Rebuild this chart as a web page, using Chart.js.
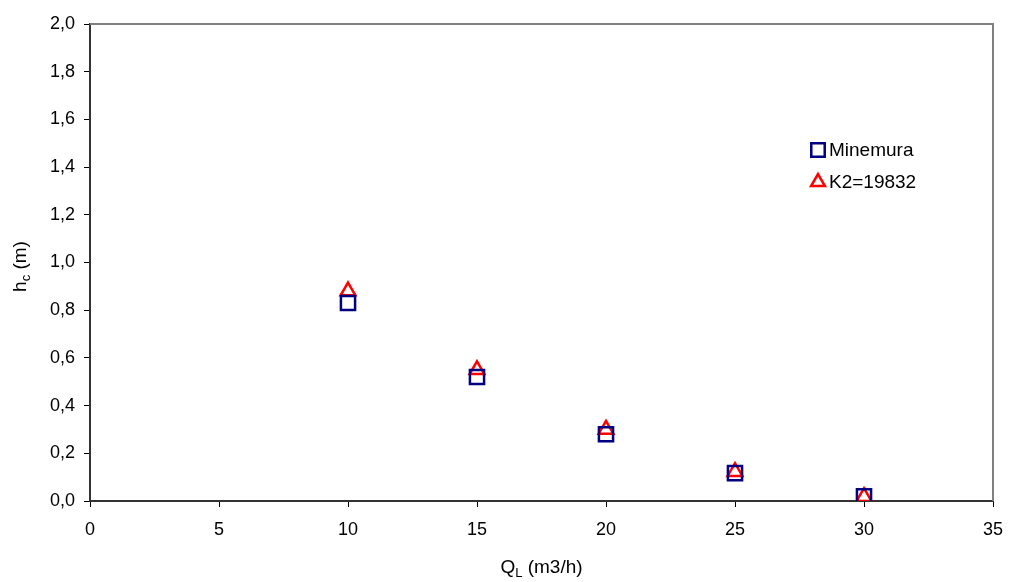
<!DOCTYPE html>
<html lang="pt">
<head>
    <meta charset="UTF-8">
    <title>hc x QL</title>
    <script src="https://cdn.jsdelivr.net/npm/chart.js@4.4.0/dist/chart.umd.min.js"></script>
    <style>
        html, body { margin: 0; padding: 0; background: #fff; }
        #wrap { width: 1011px; height: 582px; }
    </style>
</head>
<body>
<div id="wrap">
    <canvas id="grafico" width="1011" height="582"></canvas>
</div>

<script>
    // dados
    let vazoes = [10, 15, 20, 25, 30];
    let minemura = [0.83, 0.52, 0.28, 0.117, 0.02];
    let k2 = [0.88, 0.55, 0.30, 0.123, 0.018];

    let nomesSeries = ['Minemura', 'K2=19832'];

    let fonte = '"Liberation Sans", Arial, sans-serif';

    let pontos = (ys) => vazoes.map((x, i) => ({x: x, y: ys[i]}));

    // borda de cima / direita, titulos com subscrito e legenda
    let extras = {
        id: 'extras',
        afterDraw(chart) {
            let ctx = chart.ctx;
            let a = chart.chartArea;
            ctx.save();

            ctx.strokeStyle = '#808080';
            ctx.lineWidth = 2;
            ctx.beginPath();
            ctx.moveTo(a.left, a.top);
            ctx.lineTo(a.right, a.top);
            ctx.lineTo(a.right, a.bottom);
            ctx.stroke();

            ctx.fillStyle = '#000';
            ctx.textBaseline = 'alphabetic';

            // titulo eixo x: Q_L (m3/h)
            let cx = (a.left + a.right) / 2;
            ctx.font = '19px ' + fonte;
            let wQ = ctx.measureText('Q').width;
            let wResto = ctx.measureText(' (m3/h)').width;
            ctx.font = '13px ' + fonte;
            let wL = ctx.measureText('L').width;
            let x0 = cx - (wQ + wL + wResto) / 2;
            ctx.font = '19px ' + fonte;
            ctx.textAlign = 'left';
            ctx.fillText('Q', x0, 573);
            ctx.font = '13px ' + fonte;
            ctx.fillText('L', x0 + wQ, 577);
            ctx.font = '19px ' + fonte;
            ctx.fillText(' (m3/h)', x0 + wQ + wL, 573);

            // titulo eixo y: h_c (m)
            ctx.translate(26, (a.top + a.bottom) / 2 + 4);
            ctx.rotate(-Math.PI / 2);
            ctx.font = '19px ' + fonte;
            let wh = ctx.measureText('h').width;
            let wm = ctx.measureText(' (m)').width;
            ctx.font = '13px ' + fonte;
            let wc = ctx.measureText('c').width;
            let y0 = -(wh + wc + wm) / 2;
            ctx.font = '19px ' + fonte;
            ctx.fillText('h', y0, 0);
            ctx.font = '13px ' + fonte;
            ctx.fillText('c', y0 + wh, 4);
            ctx.font = '19px ' + fonte;
            ctx.fillText(' (m)', y0 + wh + wc, 0);
            ctx.restore();

            // legenda
            ctx.save();
            ctx.font = '19px ' + fonte;
            ctx.textBaseline = 'middle';
            ctx.textAlign = 'left';
            chart.data.datasets.forEach((ds, i) => {
                let ly = 150 + i * 32;
                ctx.strokeStyle = ds.borderColor;
                ctx.fillStyle = 'rgba(0,0,0,0)';
                ctx.lineWidth = ds.borderWidth;
                Chart.helpers.drawPoint(ctx, {
                    pointStyle: ds.pointStyle,
                    radius: ds.pointStyle === 'rect' ? 9.5 : 8,
                    borderWidth: ds.borderWidth
                }, 818, ly);
                ctx.fillStyle = '#000';
                ctx.fillText(ds.label, 829, ly + 1);
            });
            ctx.restore();
        }
    };

    let grafico = new Chart(document.querySelector('#grafico').getContext('2d'), {
        type: 'scatter',
        data: {
            datasets: [{
                label: nomesSeries[0],
                data: pontos(minemura),
                pointStyle: 'rect',
                pointRadius: 10,
                borderColor: '#000080',
                backgroundColor: 'rgba(0,0,0,0)',
                borderWidth: 2.5
            }, {
                label: nomesSeries[1],
                data: pontos(k2),
                pointStyle: 'triangle',
                pointRadius: 8.5,
                borderColor: '#FF0000',
                backgroundColor: 'rgba(0,0,0,0)',
                borderWidth: 2.5
            }]
        },
        options: {
            responsive: false,
            animation: false,
            layout: {padding: {left: 0, top: 24, right: 18, bottom: 0}},
            plugins: {
                legend: {display: false},
                tooltip: {enabled: false}
            },
            scales: {
                x: {
                    type: 'linear',
                    min: 0,
                    max: 35,
                    afterFit: (s) => { s.height = 81; s.paddingLeft = 0; s.paddingRight = 0; },
                    ticks: {
                        stepSize: 5,
                        color: '#000',
                        font: {family: fonte, size: 18},
                        padding: 12,
                        maxRotation: 0
                    },
                    grid: {
                        drawOnChartArea: false,
                        drawTicks: true,
                        tickLength: 6,
                        color: '#000',
                        lineWidth: 1
                    },
                    border: {display: true, color: '#333', width: 2}
                },
                y: {
                    type: 'linear',
                    min: 0,
                    max: 2,
                    afterFit: (s) => { s.width = 90; s.paddingTop = 0; s.paddingBottom = 0; },
                    ticks: {
                        stepSize: 0.2,
                        color: '#000',
                        font: {family: fonte, size: 18},
                        padding: 9,
                        callback: (v) => v.toFixed(1).replace('.', ',')
                    },
                    grid: {
                        drawOnChartArea: false,
                        drawTicks: true,
                        tickLength: 6,
                        color: '#000',
                        lineWidth: 1
                    },
                    border: {display: true, color: '#333', width: 2}
                }
            }
        },
        plugins: [extras]
    });
</script>
</body>
</html>
